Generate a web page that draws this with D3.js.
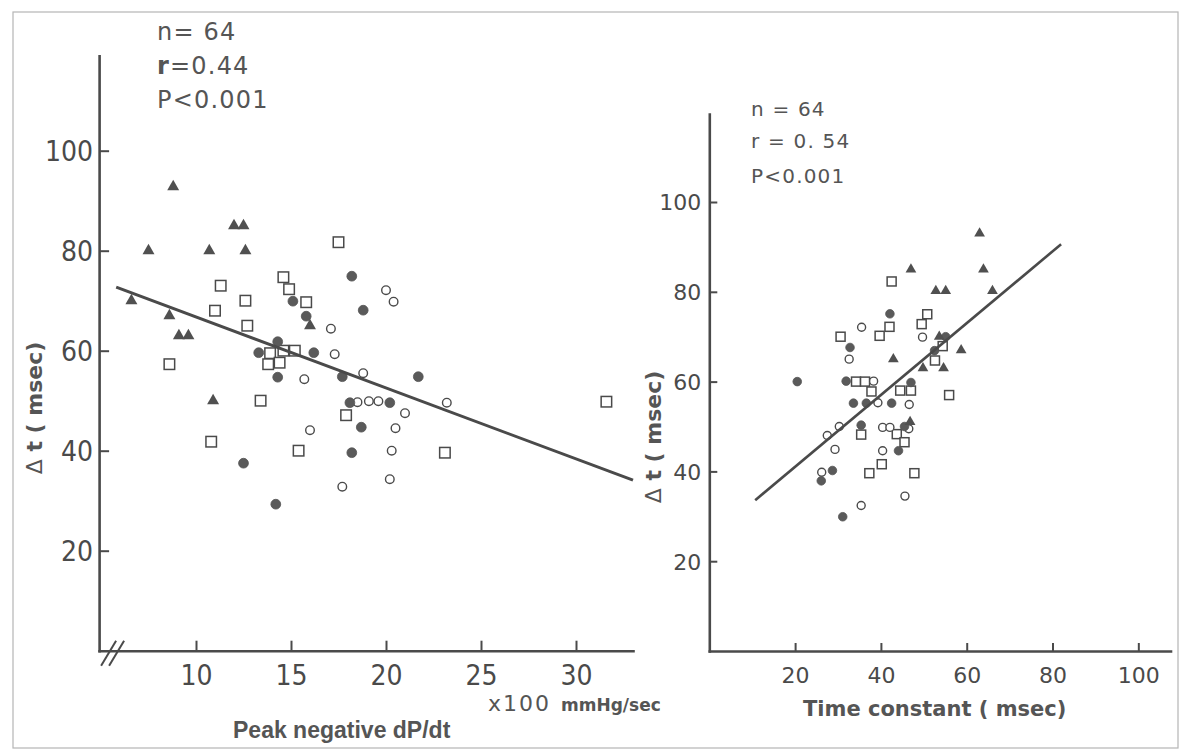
<!DOCTYPE html>
<html><head><meta charset="utf-8">
<script src="https://cdn.jsdelivr.net/npm/d3@7"></script>
<style>body{margin:0;background:#fff}</style>
</head><body>
<svg id="c" width="1181" height="753" xmlns="http://www.w3.org/2000/svg"></svg>
<script>
// ---------- DATA ----------
// Left panel: x = Peak negative dP/dt (x100 mmHg/sec), y = delta t (msec)
const leftTriangles = [[8.8,92.8],[7.5,80],[10.7,80],[12.0,85],[12.5,85],[12.6,80],[6.6,70],[8.6,67],[9.1,63],[9.6,63],[16.0,65],[10.9,50]];
const leftSquares = [[11.3,73],[11.0,68],[12.6,70],[12.7,65],[8.6,57.3],[14.6,74.7],[14.9,72.3],[15.8,69.7],[13.9,59.5],[14.6,60],[15.2,60],[13.8,57.3],[14.4,57.6],[17.5,81.7],[13.4,50],[17.9,47.1],[10.8,41.8],[15.4,40],[23.1,39.6],[31.6,49.8]];
const leftFilled = [[18.2,74.9],[15.1,69.9],[15.8,66.9],[18.8,68.1],[14.3,61.8],[13.3,59.6],[16.2,59.6],[14.3,54.7],[17.7,54.8],[21.7,54.8],[18.1,49.6],[20.2,49.6],[18.7,44.7],[12.5,37.5],[18.2,39.6],[14.2,29.3]];
const leftOpen = [[20.0,72.1],[20.4,69.8],[17.1,64.4],[17.3,59.3],[15.7,54.3],[18.8,55.5],[18.5,49.7],[19.1,49.9],[19.6,49.9],[21.0,47.5],[23.2,49.6],[16.0,44.1],[20.5,44.5],[20.3,40],[17.7,32.8],[20.2,34.3]];
const leftFit = [[5.8,72.7],[33.0,34.1]];
const leftXTicks = [10,15,20,25,30];
const leftYTicks = [20,40,60,80,100];
const leftStats = ["n= 64","r=0.44","P<0.001"];

// Right panel: x = Time constant (msec), y = delta t (msec)
const rightTriangles = [[63,93],[47,85],[63.9,85],[52.8,80.2],[55.1,80.2],[66,80.2],[53.6,70],[58.7,67],[49.8,63],[54.6,63],[42.9,65],[46.8,51]];
const rightSquares = [[42.5,82.3],[42,72.2],[39.7,70.2],[30.6,70],[34.2,60],[36.3,60],[37.8,57.8],[44.5,58],[47,58],[35.4,48.2],[43.7,48.3],[40.2,41.6],[37.3,39.6],[50.8,75],[49.5,72.8],[54.4,67.9],[52.6,64.7],[55.9,57],[45.5,46.5],[47.8,39.6]];
const rightFilled = [[42.1,75.1],[32.8,67.6],[20.5,60],[31.9,60.1],[33.6,55.2],[36.6,55.2],[42.5,55.2],[35.4,50.3],[44.1,44.6],[28.7,40.2],[26.1,37.9],[31.1,29.9],[55.1,70],[52.5,66.9],[47,59.8],[45.5,50]];
const rightOpen = [[35.5,72.1],[32.6,65],[38.3,60.1],[39.3,55.3],[30.3,50],[27.5,48],[40.4,49.8],[42.1,49.8],[29.3,44.9],[40.4,44.6],[26.2,39.8],[35.4,32.4],[49.7,69.9],[46.6,54.9],[46.5,49.5],[45.6,34.5]];
const rightFit = [[10.7,33.6],[82,90.6]];
const rightXTicks = [20,40,60,80,100];
const rightYTicks = [20,40,60,80,100];
const rightStats = ["n = 64","r = 0. 54","P<0.001"];

// ---------- DRAW ----------
const ink = '#4a4a4a';
const svg = d3.select('#c');
svg.append('rect').attr('width',1181).attr('height',753).attr('fill','#fff');
svg.append('rect').attr('x',13).attr('y',12).attr('width',1165).attr('height',736)
  .attr('fill','none').attr('stroke','#b5b5b5').attr('stroke-width',1.2);

function panel(o){
  const g = svg.append('g');
  const x = d3.scaleLinear().domain(o.xDomain).range(o.xRange);
  const y = d3.scaleLinear().domain(o.yDomain).range(o.yRange);
  const x0 = o.xRange[0], y0 = o.yRange[0];

  const ax = g.append('g').attr('transform',`translate(0,${y0})`)
    .call(d3.axisBottom(x).tickValues(o.xTicks).tickSizeInner(-o.tick).tickSizeOuter(0).tickFormat(d3.format('d')));
  const ay = g.append('g').attr('transform',`translate(${x0},0)`)
    .call(d3.axisLeft(y).tickValues(o.yTicks).tickSizeInner(-o.tick).tickSizeOuter(0).tickFormat(d3.format('d')));
  [ax,ay].forEach(a=>{
    a.attr('font-size',null).attr('font-family',null);
    a.select('.domain').attr('stroke',ink).attr('stroke-width',2.6).attr('stroke-linecap','square');
    a.selectAll('.tick line').attr('stroke',ink).attr('stroke-width',2);
    a.selectAll('.tick text').attr('fill',ink).style('font-family',o.tickFont).style('font-size',o.tickSize+'px');
  });
  ax.selectAll('.tick text').attr('y',o.xLabelOffset).attr('dy',null);
  ay.selectAll('.tick text').attr('x',-o.yLabelGap).attr('dy','0.36em');

  // markers
  const m = o.marker;
  g.selectAll('rect.sq').data(o.squares).join('rect').attr('class','sq')
    .attr('x',d=>x(d[0])-m.sq/2).attr('y',d=>y(d[1])-m.sq/2).attr('width',m.sq).attr('height',m.sq)
    .attr('fill','#fff').attr('stroke',ink).attr('stroke-width',1.5);
  g.selectAll('circle.op').data(o.open).join('circle').attr('class','op')
    .attr('cx',d=>x(d[0])).attr('cy',d=>y(d[1])).attr('r',m.open)
    .attr('fill','#fff').attr('stroke',ink).attr('stroke-width',1.4);
  g.selectAll('circle.fi').data(o.filled).join('circle').attr('class','fi')
    .attr('cx',d=>x(d[0])).attr('cy',d=>y(d[1])).attr('r',m.filled)
    .attr('fill','#5a5a5a').attr('stroke','#555').attr('stroke-width',0.8);
  const tri = d3.symbol().type(d3.symbolTriangle).size(m.tri);
  g.selectAll('path.tr').data(o.triangles).join('path').attr('class','tr')
    .attr('transform',d=>`translate(${x(d[0])},${y(d[1])})`).attr('d',tri)
    .attr('fill','#505050');

  // regression line
  g.append('path').datum(o.fit)
    .attr('d',d3.line().x(d=>x(d[0])).y(d=>y(d[1])))
    .attr('fill','none').attr('stroke',ink).attr('stroke-width',o.fitWidth);

  // stats text
  const st = g.append('g').attr('fill','#555').style('font-family','"DejaVu Sans", sans-serif')
    .style('font-size',o.statSize+'px').style('letter-spacing',o.statSpacing+'px');
  o.stats.forEach((s,i)=>{
    st.append('text').attr('x',o.statX).attr('y',o.statY[i]).text(s);
  });

  // y label
  const yl = g.append('text').attr('transform',`translate(${o.yTitleX},${o.yTitleY}) rotate(-90)`)
    .attr('text-anchor','middle').attr('fill','#555')
    .style('font-family','"DejaVu Sans", sans-serif').style('font-size',o.yTitleSize+'px');
  yl.append('tspan').style('font-weight','normal').text('\u0394');
  yl.append('tspan').style('font-weight','bold').text(' t ( msec)');
  return {g,x,y};
}

const L = panel({
  xDomain:[4.9,33.0], xRange:[99.1,633],
  yDomain:[0,119], yRange:[650.7,55.7],
  xTicks:leftXTicks, yTicks:leftYTicks, tick:10,
  tickFont:'"Liberation Sans Narrow","DejaVu Sans Condensed",sans-serif', tickSize:28,
  xLabelOffset:34.5, yLabelGap:6,
  squares:leftSquares, open:leftOpen, filled:leftFilled, triangles:leftTriangles,
  marker:{sq:10.5, open:4.3, filled:4.9, tri:62},
  fit:leftFit, fitWidth:3,
  stats:leftStats, statX:157, statY:[40,74,108], statSize:24, statSpacing:1.2,
  yTitleX:42, yTitleY:408, yTitleSize:22
});
// bold r in left stats
L.g.selectAll('text').filter(function(){return this.textContent==='r=0.44';}).each(function(){
  const t = d3.select(this); t.text(null);
  t.append('tspan').style('font-weight','bold').text('r');
  t.append('tspan').text('=0.44');
});
// axis break marks
[0,8].forEach(dx=>{
  L.g.append('line').attr('x1',L.x.range()[0]+2+dx).attr('y1',L.y.range()[0]+15)
    .attr('x2',L.x.range()[0]+17+dx).attr('y2',L.y.range()[0]-10)
    .attr('stroke',ink).attr('stroke-width',2);
});
L.g.append('text').attr('x',488).attr('y',711).attr('fill','#555')
  .style('font-family','"DejaVu Sans", sans-serif').style('font-size','22px').style('letter-spacing','2px').text('x100');
L.g.append('text').attr('x',561).attr('y',711).attr('fill','#555')
  .style('font-family','"DejaVu Sans", sans-serif').style('font-weight','bold').style('font-size','17px').text('mmHg/sec');
L.g.append('text').attr('x',233).attr('y',738).attr('fill','#555')
  .style('font-family','"Liberation Sans", Arial, sans-serif').style('font-weight','bold').style('font-size','23px').text('Peak negative dP/dt');

const R = panel({
  xDomain:[0,107.5], xRange:[709.3,1170.5],
  yDomain:[0,119.6], yRange:[651,114],
  xTicks:rightXTicks, yTicks:rightYTicks, tick:8,
  tickFont:'"DejaVu Sans",sans-serif', tickSize:22,
  xLabelOffset:32, yLabelGap:8,
  squares:rightSquares, open:rightOpen, filled:rightFilled, triangles:rightTriangles,
  marker:{sq:9, open:4, filled:4.3, tri:50},
  fit:rightFit, fitWidth:2.6,
  stats:rightStats, statX:751, statY:[116,148,183], statSize:20, statSpacing:1.2,
  yTitleX:661, yTitleY:437, yTitleSize:22
});
R.g.append('text').attr('x',803).attr('y',716).attr('fill','#555')
  .style('font-family','"DejaVu Sans", sans-serif').style('font-weight','bold').style('font-size','21px').text('Time constant ( msec)');
</script>
</body></html>
